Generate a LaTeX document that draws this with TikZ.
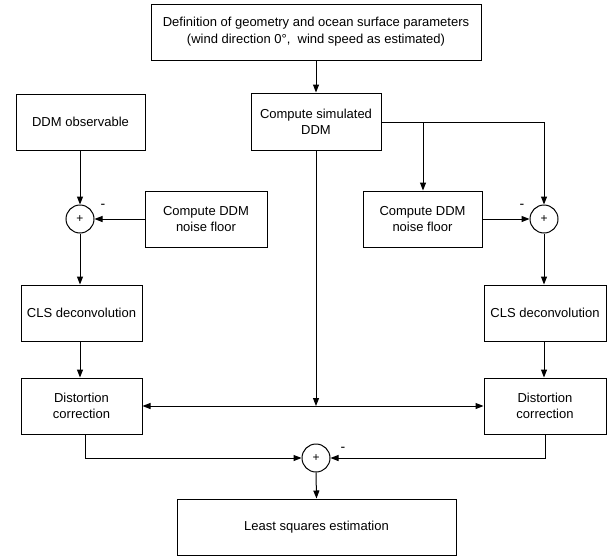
\documentclass[tikz,border=0pt]{standalone}
\usepackage{fontspec}
\setmainfont{Liberation Sans}
\usetikzlibrary{arrows.meta}
\begin{document}
\begin{tikzpicture}[x=1pt,y=-1pt,
  box/.style={draw, line width=1pt, inner sep=0pt, align=center,
    font=\fontsize{13}{16}\selectfont},
  sumnode/.style={draw, circle, line width=1pt, minimum size=28pt, inner sep=0pt,
    font=\fontsize{12}{12}\selectfont},
  conn/.style={line width=1pt},
  arr/.style={conn, -{Triangle[length=8pt,width=6pt]}},
  sign/.style={font=\fontsize{14}{14}\selectfont, inner sep=0pt}]
\useasboundingbox (0,0) rectangle (610,557);
% boxes
\node[box, minimum width=330pt, minimum height=56pt, font=\fontsize{13}{17}\selectfont] (top) at (316,32)
  {Definition of geometry and ocean surface parameters\\(wind direction 0°,\ \ wind speed as estimated)};
\node[box, minimum width=129pt, minimum height=56pt] (obs) at (80.5,122) {DDM observable};
\node[box, minimum width=130pt, minimum height=57pt] (sim) at (316,121.5) {Compute simulated\\DDM};
\node[box, minimum width=122pt, minimum height=56pt] (noiseL) at (206,219) {Compute DDM\\noise floor};
\node[box, minimum width=119pt, minimum height=56pt] (noiseR) at (422.5,219) {Compute DDM\\noise floor};
\node[box, minimum width=121pt, minimum height=56pt] (clsL) at (81.5,313) {CLS deconvolution};
\node[box, minimum width=122pt, minimum height=56pt] (clsR) at (545,313) {CLS deconvolution};
\node[box, minimum width=121pt, minimum height=56pt] (distL) at (81.5,406) {Distortion\\correction};
\node[box, minimum width=122pt, minimum height=56pt] (distR) at (545,406) {Distortion\\correction};
\node[box, minimum width=279pt, minimum height=56pt] (ls) at (316.5,527) {Least squares estimation};
% summing junctions
\node[sumnode] (cL) at (80,219) {+};
\node[sumnode] (cR) at (544,219) {+};
\node[sumnode] (cB) at (316,458) {+};
\node[sign] (mL) at (103,206) {-};
\node[sign] (mR) at (522,206) {-};
\node[sign] (mB) at (343,449) {-};
% coordinates
\coordinate (br) at (423,122);
\coordinate (mid) at (316,406);
% connectors
\draw[arr] (top.south) -- (sim.north);
\draw[arr] (obs.south -| cL) -- (cL.north);
\draw[arr] (noiseL.west) -- (cL.east);
\draw[arr] (cL.south) -- (cL.south |- clsL.north);
\draw[arr] (clsL.south -| cL) -- (distL.north -| cL);
\draw[arr] (sim.east |- br) -| (cR.north);
\draw[arr] (br) -- (noiseR.north -| br);
\draw[arr] (noiseR.east) -- (cR.west);
\draw[arr] (cR.south) -- (cR.south |- clsR.north);
\draw[arr] (clsR.south -| cR) -- (distR.north -| cR);
\draw[arr] (sim.south) -- (mid);
\draw[arr] (mid) -- (distL.east);
\draw[arr] (mid) -- (distR.west);
\draw[arr] ([xshift=3.5pt]distL.south) |- (cB.west);
\draw[arr] (distR.south) |- (cB.east);
\draw[arr] (cB.south) -- (ls.north);
\end{tikzpicture}
\end{document}
